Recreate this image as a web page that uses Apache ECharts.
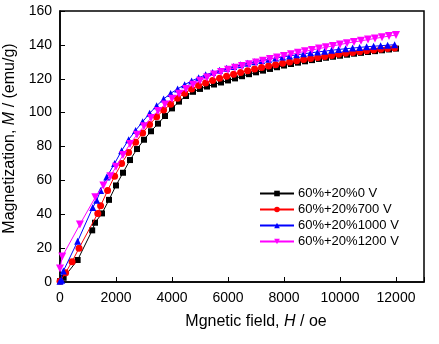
<!DOCTYPE html>
<html><head><meta charset="utf-8">
<script src="https://cdn.jsdelivr.net/npm/echarts@6/dist/echarts.min.js"></script>
<style>html,body{margin:0;padding:0;background:#fff}#c{width:439px;height:344px}</style>
</head><body><div id="c"></div>
<script>
const seriesNames = ['60%+20%0 V', '60%+20%700 V', '60%+20%1000 V', '60%+20%1200 V'];
const xTicks = [0, 2000, 4000, 6000, 8000, 10000, 12000];
const yTicks = [0, 20, 40, 60, 80, 100, 120, 140, 160];

const fieldBlack = [0, 130, 630, 1150, 1250, 1500, 1750, 2000, 2250, 2500, 2750,
  3000, 3250, 3500, 3750, 4000, 4250, 4500, 4750, 5000, 5250, 5500, 5750, 6000, 6250, 6500, 6750,
  7000, 7250, 7500, 7750, 8000, 8250, 8500, 8750, 9000, 9250, 9500, 9750, 10000, 10250, 10500, 10750,
  11000, 11250, 11500, 11750, 12000];
const magBlack = [0.5, 2.5, 13, 30.5, 35, 40.5, 48.5, 57, 64.5, 72, 78.5,
  84, 89, 93.5, 98, 102.5, 106.5, 109.8, 112.3, 114, 115.4, 116.6, 117.8, 119, 120.2, 121.5, 122.7,
  123.8, 124.8, 125.8, 126.8, 127.8, 128.7, 129.5, 130.3, 131, 131.7, 132.4, 133, 133.6, 134.2, 134.8, 135.3,
  135.8, 136.3, 136.8, 137.3, 137.8];

const fieldRed = [0, 200, 430, 680, 1350, 1450, 1700,
  1950, 2200, 2450, 2700, 2950, 3200, 3450, 3700, 3950, 4200, 4450, 4700, 4950, 5200, 5450, 5700,
  5950, 6200, 6450, 6700, 6950, 7200, 7450, 7700, 7950, 8200, 8450, 8700, 8950, 9200, 9450, 9700,
  9950, 10200, 10450, 10700, 10950, 11200, 11450, 11700, 11950];
const magRed = [0.5, 5.5, 12, 20, 40.5, 45, 54,
  62.5, 70, 76.5, 82.5, 88, 93, 97.5, 101.5, 105, 108.5, 111.5, 114, 116, 117.5, 119, 120.3,
  121.5, 122.6, 123.7, 124.7, 125.7, 126.6, 127.5, 128.3, 129.1, 129.9, 130.6, 131.3, 132, 132.6, 133.2, 133.8,
  134.4, 135, 135.5, 136, 136.5, 137, 137.4, 137.8, 138.2];

const fieldBlue = [0, 60, 120, 630, 1170, 1310, 1450, 1670,
  1950, 2200, 2450, 2700, 2950, 3200, 3450, 3700, 3950, 4200, 4450, 4700, 4950, 5200, 5450, 5700,
  5950, 6200, 6450, 6700, 6950, 7200, 7450, 7700, 7950, 8200, 8450, 8700, 8950, 9200, 9450, 9700,
  9950, 10200, 10450, 10700, 10950, 11200, 11450, 11700, 11950];
const magBlue = [0.5, 1, 6.5, 24, 44, 48.2, 54, 62,
  70, 77.5, 84, 89.5, 94.6, 99.6, 104, 108, 111.3, 114, 116.5, 118.7, 120.6, 122.3, 123.7, 125,
  126.2, 127.2, 128.2, 129.1, 130, 130.8, 131.5, 132.2, 132.9, 133.5, 134.1, 134.7, 135.3, 135.8, 136.3, 136.8,
  137.3, 137.7, 138.1, 138.5, 138.9, 139.2, 139.5, 139.8, 140.1];

const fieldMagenta = [0, 80, 710, 1260, 1550, 1800,
  2000, 2250, 2500, 2750, 3000, 3250, 3500, 3750, 4000, 4250, 4500, 4750, 5000, 5250, 5500, 5750,
  6000, 6250, 6500, 6750, 7000, 7250, 7500, 7750, 8000, 8250, 8500, 8750, 9000, 9250, 9500, 9750,
  10000, 10250, 10500, 10750, 11000, 11250, 11500, 11750, 12000];
const magMagenta = [8, 15, 34, 50, 57, 62.5,
  68, 75, 81.5, 87, 92, 96.8, 101, 104.8, 108.2, 111.2, 114, 116.5, 118.8, 120.8, 122.5, 124,
  125.3, 126.5, 127.6, 128.6, 129.6, 130.6, 131.6, 132.6, 133.5, 134.4, 135.3, 136.2, 137, 137.8, 138.6, 139.4,
  140.2, 141, 141.7, 142.4, 143.1, 143.8, 144.5, 145.2, 145.8];

const colors = ['#000000', '#ff0000', '#0000ff', '#ff00ff'];
const symbols = ['rect', 'circle', 'triangle', 'triangle'];
const rotations = [0, 0, 0, 180];
const sizes = [6, 7, 7, 8];
const fields = [fieldBlack, fieldRed, fieldBlue, fieldMagenta];
const mags = [magBlack, magRed, magBlue, magMagenta];

const font = 'Liberation Sans, Arial, sans-serif';
const chart = echarts.init(document.getElementById('c'), null, {renderer: 'canvas'});
chart.setOption({
  animation: false,
  backgroundColor: '#fff',
  grid: {left: 60, right: 15, top: 11, bottom: 62, containLabel: false, outerBoundsMode: 'none',
    show: true, borderColor: '#000', borderWidth: 1.5, backgroundColor: 'transparent'},
  legend: {
    orient: 'vertical', left: 254, top: 182, itemWidth: 34, itemHeight: 7, itemGap: 3,
    textStyle: {fontFamily: font, fontSize: 13, color: '#000', padding: [0, 0, 0, -1]},
    data: seriesNames
  },
  xAxis: {
    type: 'value', min: 0, max: 13000, interval: 2000,
    name: 'Mgnetic field, {i|H} / oe', nameLocation: 'middle', nameGap: 32,
    nameTextStyle: {fontFamily: font, fontSize: 16, color: '#000', padding: [0, 0, 0, 28],
      rich: {i: {fontFamily: font, fontSize: 16, fontStyle: 'italic', color: '#000'}}},
    axisLine: {lineStyle: {color: '#000', width: 1.5}},
    axisTick: {inside: true, length: 5, lineStyle: {color: '#000'}},
    axisLabel: {fontFamily: font, fontSize: 14, color: '#000', margin: 9,
      formatter: v => xTicks.includes(v) ? String(v) : ''},
    splitLine: {show: false}
  },
  yAxis: {
    type: 'value', min: 0, max: 160, interval: 20,
    name: 'Magnetization, {i|M} / (emu/g)', nameLocation: 'middle', nameGap: 28, nameRotate: 90,
    nameTextStyle: {fontFamily: font, fontSize: 16, color: '#000', padding: [0, 0, 0, 16],
      rich: {i: {fontFamily: font, fontSize: 16, fontStyle: 'italic', color: '#000'}}},
    axisLine: {lineStyle: {color: '#000', width: 1.5}},
    axisTick: {inside: true, length: 5, lineStyle: {color: '#000'}},
    axisLabel: {fontFamily: font, fontSize: 14, color: '#000', margin: 8,
      formatter: v => yTicks.includes(v) ? String(v) : ''},
    splitLine: {show: false}
  },
  series: seriesNames.map((n, k) => ({
    name: n, type: 'line',
    data: fields[k].map((h, i) => [h, mags[k][i]]),
    symbol: symbols[k], symbolSize: sizes[k], symbolRotate: rotations[k], showAllSymbol: true,
    itemStyle: {color: colors[k]},
    lineStyle: {color: colors[k], width: 1},
    z: 2 + k
  }))
});
</script></body></html>
